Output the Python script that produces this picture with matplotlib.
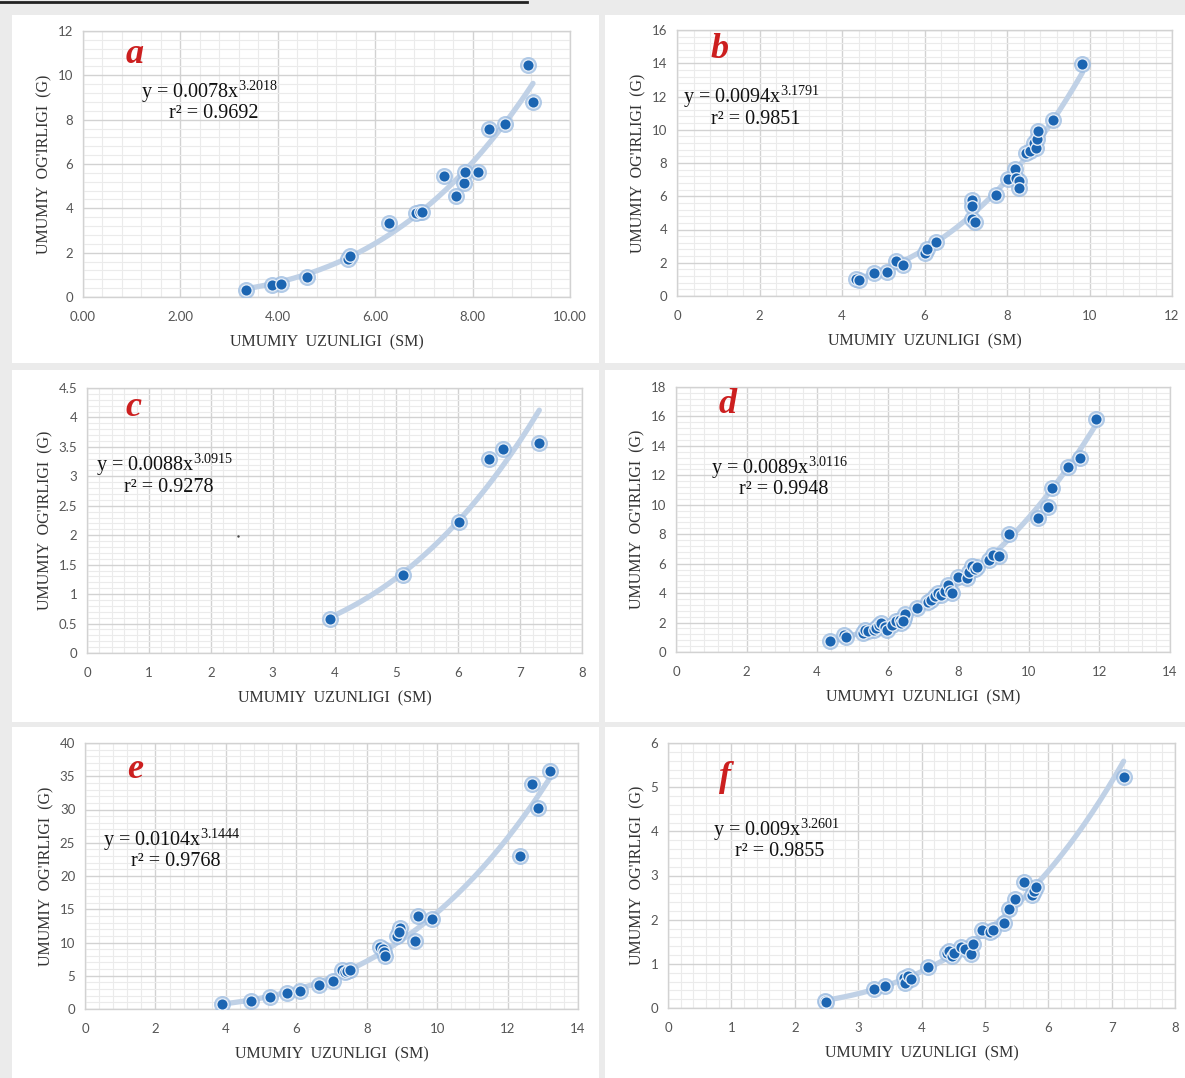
import matplotlib
matplotlib.use('Agg')
import matplotlib.pyplot as plt
from matplotlib.patches import Rectangle
from matplotlib.lines import Line2D
from matplotlib.ticker import AutoMinorLocator, FormatStrFormatter
import numpy as np

plt.rcParams['mathtext.fontset'] = 'custom'
plt.rcParams['mathtext.rm'] = 'Liberation Serif'

W, H = 1185, 1078

# ---- data (uzunlik sm, og'irlik g) ----
a_x = [3.34, 3.89, 4.07, 4.59, 5.44, 5.49, 6.29, 6.83, 6.91, 6.97, 7.41, 7.66,
       7.82, 7.84, 8.12, 8.33, 8.67, 9.13, 9.24]
a_y = [0.33, 0.53, 0.60, 0.91, 1.71, 1.84, 3.35, 3.77, 3.85, 3.82, 5.48, 4.57,
       5.13, 5.66, 5.66, 7.59, 7.79, 10.46, 8.78]

b_x = [4.35, 4.42, 4.78, 5.10, 5.30, 5.48, 6.02, 6.05, 6.28, 7.16, 7.16, 7.14,
       7.23, 7.73, 8.02, 8.20, 8.21, 8.29, 8.29, 8.47, 8.56, 8.65, 8.70, 8.72,
       8.76, 9.12, 9.83]
b_y = [1.04, 0.94, 1.40, 1.46, 2.10, 1.86, 2.60, 2.80, 3.27, 5.75, 5.41, 4.65,
       4.45, 6.07, 7.01, 7.62, 7.11, 6.91, 6.51, 8.62, 8.72, 9.22, 8.92, 9.42,
       9.92, 10.56, 13.97]

c_x = [3.93, 5.10, 6.02, 6.50, 6.72, 7.31]
c_y = [0.57, 1.33, 2.22, 3.29, 3.46, 3.56]
c_stray_x = [2.44]
c_stray_y = [1.98]

d_x = [4.37, 4.76, 4.83, 5.29, 5.36, 5.44, 5.60, 5.66, 5.76, 5.81, 5.92, 5.97,
       6.13, 6.24, 6.34, 6.37, 6.45, 6.50, 6.42, 6.82, 7.14, 7.24, 7.35, 7.43,
       7.51, 7.61, 7.72, 7.77, 7.82, 7.98, 8.25, 8.30, 8.38, 8.46, 8.53, 8.88,
       8.98, 9.16, 9.44, 10.25, 10.54, 10.66, 11.12, 11.45, 11.89]
d_y = [0.77, 1.13, 0.99, 1.29, 1.47, 1.40, 1.51, 1.63, 1.85, 1.96, 1.67, 1.51,
       1.85, 2.08, 2.19, 1.96, 2.30, 2.57, 2.08, 3.02, 3.43, 3.54, 3.77, 4.00,
       3.88, 4.11, 4.56, 4.15, 4.00, 5.08, 5.01, 5.46, 5.87, 5.64, 5.76, 6.25,
       6.59, 6.55, 8.01, 9.12, 9.86, 11.11, 12.55, 13.21, 15.80]

e_x = [3.88, 4.72, 5.24, 5.74, 6.11, 6.65, 7.04, 7.31, 7.38, 7.45, 7.53, 8.37,
       8.45, 8.50, 8.51, 8.86, 8.94, 8.91, 9.38, 9.47, 9.86, 12.35, 12.70, 12.87,
       13.20]
e_y = [0.75, 1.25, 1.85, 2.36, 2.76, 3.66, 4.26, 5.91, 5.56, 5.66, 5.81, 9.27,
       9.02, 8.57, 8.02, 10.93, 12.18, 11.53, 10.22, 13.93, 13.53, 23.0, 33.8,
       30.2, 35.8]

f_x = [2.47, 2.49, 3.25, 3.43, 3.72, 3.74, 3.78, 3.83, 4.11, 4.40, 4.43, 4.48,
       4.51, 4.62, 4.68, 4.78, 4.82, 4.95, 5.08, 5.13, 5.30, 5.38, 5.48, 5.61,
       5.74, 5.77, 5.81, 7.19]
f_y = [0.15, 0.14, 0.43, 0.50, 0.68, 0.56, 0.72, 0.66, 0.93, 1.24, 1.30, 1.18,
       1.24, 1.39, 1.33, 1.22, 1.45, 1.77, 1.71, 1.77, 1.92, 2.24, 2.46, 2.85,
       2.56, 2.64, 2.75, 5.23]

# trend koeffitsientlari: y = k * x^n
coef_k = [0.0078, 0.0094, 0.0088, 0.0089, 0.0104, 0.009]
coef_n = [3.2018, 3.1791, 3.0915, 3.0116, 3.1444, 3.2601]
coef_r2 = ['0.9692', '0.9851', '0.9278', '0.9948', '0.9768', '0.9855']
k_text = ['0.0078', '0.0094', '0.0088', '0.0089', '0.0104', '0.009']
n_text = ['3.2018', '3.1791', '3.0915', '3.0116', '3.1444', '3.2601']
letters = ['a', 'b', 'c', 'd', 'e', 'f']

x_limits = [10, 12, 8, 14, 14, 8]
x_steps = [2, 2, 1, 2, 2, 1]
y_limits = [12, 16, 4.5, 18, 40, 6]
y_steps = [2, 2, 0.5, 2, 5, 1]
x_labels = ['UMUMIY  UZUNLIGI  (SM)'] * 3 + ['UMUMYI  UZUNLIGI  (SM)'] + ['UMUMIY  UZUNLIGI  (SM)'] * 2
y_label = "UMUMIY  OG'IRLIGI  (G)"

all_x = [a_x, b_x, c_x, d_x, e_x, f_x]
all_y = [a_y, b_y, c_y, d_y, e_y, f_y]

# ---- joylashuv (piksel) ----
panels = [(12, 15, 599, 363), (605, 15, 1185, 363),
          (12, 370, 599, 722), (605, 370, 1185, 722),
          (12, 727, 599, 1078), (605, 727, 1185, 1078)]
plot_boxes = [(83, 31, 570, 297), (677, 30, 1172, 296),
              (87, 388, 582, 653), (676, 387, 1170, 652),
              (85, 743, 578, 1009), (668, 743, 1175, 1008)]
letter_pos = [(135, 55), (720, 50), (133, 407), (728, 405), (135, 770), (725, 778)]
eq_pos = [(210, 92), (752, 97), (165, 465), (780, 468), (172, 840), (776, 830)]

fig = plt.figure(figsize=(W / 100, H / 100), dpi=100, facecolor='#ebebeb')

for (l, t, r, b) in panels:
    fig.patches.append(Rectangle((l / W, 1 - b / H), (r - l) / W, (b - t) / H,
                                 transform=fig.transFigure, facecolor='white',
                                 edgecolor='none', zorder=-5))
fig.lines.append(Line2D([0, 527 / W], [1 - 1.5 / H, 1 - 1.5 / H],
                        transform=fig.transFigure, color='#222222', lw=2))

for i in range(6):
    l, t, r, b = plot_boxes[i]
    ax = fig.add_axes([l / W, 1 - b / H, (r - l) / W, (b - t) / H])
    ax.set_facecolor('white')
    ax.set_xlim(0, x_limits[i])
    ax.set_ylim(0, y_limits[i])
    ax.set_xticks(np.arange(0, x_limits[i] + 1e-9, x_steps[i]))
    ax.set_yticks(np.arange(0, y_limits[i] + 1e-9, y_steps[i]))
    if i == 0:
        ax.xaxis.set_major_formatter(FormatStrFormatter('%.2f'))
    else:
        ax.xaxis.set_major_formatter(FormatStrFormatter('%g'))
    ax.yaxis.set_major_formatter(FormatStrFormatter('%g'))
    ax.xaxis.set_minor_locator(AutoMinorLocator(5))
    ax.yaxis.set_minor_locator(AutoMinorLocator(5))
    ax.grid(True, which='major', color='#d2d2d2', lw=1.0)
    ax.grid(True, which='minor', color='#ebebeb', lw=0.8)
    ax.set_axisbelow(True)
    ax.tick_params(which='both', length=0, labelsize=9.5, labelcolor='#555555')
    ax.tick_params(axis='x', pad=10)
    ax.tick_params(axis='y', pad=7)
    for lab in ax.get_xticklabels() + ax.get_yticklabels():
        lab.set_family('Lato')
    for sp in ax.spines.values():
        sp.set_color('#d2d2d2')
        sp.set_linewidth(1.0)

    xs = np.array(all_x[i])
    ys = np.array(all_y[i])
    xx = np.linspace(xs.min(), xs.max(), 200)
    ax.plot(xx, coef_k[i] * xx ** coef_n[i], color='#c0d1e6', lw=3.8,
            solid_capstyle='round', zorder=2)
    ax.scatter(xs, ys, s=150, color='#9fbee2', alpha=0.8, lw=0, zorder=3)
    ax.scatter(xs, ys, s=68, color='#1b65b2', edgecolor='#e2ebf6', lw=1.0, zorder=4)
    if i == 2:
        ax.scatter(c_stray_x, c_stray_y, s=3, color='#444444', lw=0, zorder=4)

    ax.set_xlabel(x_labels[i], family='Liberation Serif', fontsize=11.5,
                  color='#333333', labelpad=8)
    ax.set_ylabel(y_label, family='Liberation Serif', fontsize=11.5,
                  color='#333333', labelpad=4)

    lx, ly = letter_pos[i]
    fig.text(lx / W, 1 - ly / H, letters[i], family='Liberation Serif',
             style='italic', weight='bold', fontsize=26, color='#cc1f1f',
             ha='center', va='center')
    ex, ey = eq_pos[i]
    fig.text(ex / W, 1 - ey / H,
             'y = ' + k_text[i] + 'x$^{' + n_text[i] + '}$',
             family='Liberation Serif', fontsize=14.5, color='#111111',
             ha='center', va='center')
    fig.text((ex + 4) / W, 1 - (ey + 22) / H, 'r² = ' + coef_r2[i],
             family='Liberation Serif', fontsize=14.5, color='#111111',
             ha='center', va='center')

fig.savefig('out.png', dpi=100, facecolor=fig.get_facecolor())
